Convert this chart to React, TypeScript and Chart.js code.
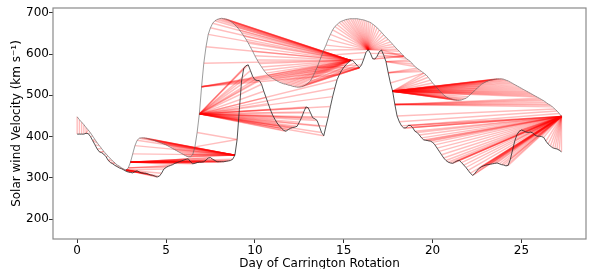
import React, { useEffect, useRef } from "react";
import { Chart, registerables } from "chart.js";
Chart.register(...registerables);

// sampling step of both series (days)
const STEP_DAYS = 0.125;

// observed solar wind speed (km/s), every 0.125 day from day 0 (one row per day)
const OBSERVED = [
  406, 406, 406, 406, 408, 407, 400, 390,
  380, 370, 363, 361, 357, 351, 342, 337,
  334, 330, 327, 324, 322, 319, 316, 314,
  313, 312, 315, 317, 314, 312, 311, 311,
  309, 307, 306, 304, 302, 304, 311, 321,
  325, 328, 330, 332, 335, 337, 339, 341,
  343, 345, 346, 339, 334, 335, 337, 338,
  338, 339, 343, 348, 349, 345, 342, 339,
  339, 339, 339, 340, 341, 342, 345, 355,
  393, 465, 535, 566, 572, 574, 560, 546,
  538, 536, 536, 527, 510, 495, 480, 465,
  452, 442, 433, 426, 420, 415, 413, 417,
  420, 422, 423, 425, 435, 446, 460, 472,
  470, 458, 446, 443, 439, 425, 410, 402,
  425, 447, 473, 497, 518, 538, 550, 560,
  568, 574, 580, 585, 585, 579, 573, 567,
  574, 588, 604, 611, 602, 589, 588, 595,
  606, 610, 597, 582, 555, 530, 510, 478,
  450, 436, 426, 421, 421, 427, 427, 422,
  413, 410, 404, 397, 392, 391, 390, 389,
  386, 380, 372, 364, 356, 348, 342, 338,
  336, 335, 338, 341, 342, 337, 331, 325,
  318, 311, 306, 310, 318, 323, 327, 329,
  331, 332, 333, 334, 335, 336, 334, 332,
  331, 329, 330, 345, 368, 390, 405, 413,
  416, 414, 411, 410, 411, 409, 404, 401,
  401, 400, 398, 389, 382, 377, 373, 371,
  370, 367, 363,
];

// modelled solar wind speed (km/s), same sampling
const MODEL = [
  448, 441, 435, 429, 422, 416, 409, 401,
  393, 385, 378, 371, 364, 358, 352, 346,
  341, 336, 331, 328, 324, 321, 319, 324,
  338, 358, 378, 391, 396, 397, 397, 396,
  395, 393, 392, 390, 388, 386, 384, 382,
  380, 377, 374, 371, 368, 365, 362, 359,
  356, 353, 351, 351, 356, 375, 410, 455,
  521, 578, 618, 648, 664, 675, 681, 684,
  686, 687, 686, 685, 683, 680, 676, 671,
  666, 659, 652, 644, 636, 627, 617, 607,
  596, 586, 577, 569, 561, 554, 549, 545,
  541, 538, 535, 532, 530, 528, 527, 525,
  524, 522, 521, 520, 520, 521, 523, 526,
  530, 535, 545, 556, 568, 582, 596, 610,
  622, 636, 648, 659, 667, 672, 677, 680,
  682, 684, 685, 686, 686, 686, 686, 685,
  684, 683, 681, 679, 677, 673, 669, 664,
  659, 653, 647, 641, 636, 630, 624, 618,
  612, 607, 601, 595, 590, 586, 582, 576,
  570, 566, 562, 558, 554, 550, 544, 537,
  530, 524, 518, 512, 506, 501, 497, 494,
  492, 490, 489, 488, 488, 489, 491, 493,
  497, 502, 507, 512, 517, 522, 527, 530,
  533, 535, 537, 538, 539, 540, 540, 540,
  539, 537, 535, 532, 529, 526, 523, 520,
  517, 514, 511, 508, 505, 502, 499, 496,
  493, 490, 487, 483, 479, 476, 472, 467,
  462, 456, 449,
];

const MODEL_ANCHORS = [0, 22, 52, 55, 55, 56, 98, 108, 120, 138, 156, 196, 217, 218, 218];
const OBS_ANCHORS = [0, 36, 71, 73, 117, 123, 124, 127, 131, 131, 142, 142, 146, 147, 218];

const X_TICKS = [0, 5, 10, 15, 20, 25];
const Y_TICKS = [200, 300, 400, 500, 600, 700];
const X_LABEL = "Day of Carrington Rotation";
const Y_LABEL = "Solar wind Velocity (km s\u207B\u00B9)";

// dynamic time warping between two anchor points (inclusive)
function dtwBlock(a: number[], b: number[], g0: number, g1: number, h0: number, h1: number): [number, number][] {
  const n = g1 - g0 + 1, m = h1 - h0 + 1;
  const D: number[][] = [];
  for (let i = 0; i < n; i++) D.push(new Array(m).fill(Infinity));
  for (let i = 0; i < n; i++) {
    for (let j = 0; j < m; j++) {
      const c = Math.abs(a[g0 + i] - b[h0 + j]);
      if (i === 0 && j === 0) { D[i][j] = c; continue; }
      const prev = Math.min(
        i > 0 ? D[i - 1][j] : Infinity,
        j > 0 ? D[i][j - 1] : Infinity,
        i > 0 && j > 0 ? D[i - 1][j - 1] : Infinity
      );
      D[i][j] = c + prev;
    }
  }
  const path: [number, number][] = [];
  let i = n - 1, j = m - 1;
  path.push([g0 + i, h0 + j]);
  while (i > 0 || j > 0) {
    if (i === 0) j--;
    else if (j === 0) i--;
    else {
      const diag = D[i - 1][j - 1], up = D[i - 1][j], left = D[i][j - 1];
      if (diag <= up && diag <= left) { i--; j--; }
      else if (up <= left) i--;
      else j--;
    }
    path.push([g0 + i, h0 + j]);
  }
  return path.reverse();
}

function alignment(): [number, number][] {
  const out: [number, number][] = [];
  for (let k = 0; k < MODEL_ANCHORS.length - 1; k++) {
    const seg = dtwBlock(MODEL, OBSERVED, MODEL_ANCHORS[k], MODEL_ANCHORS[k + 1], OBS_ANCHORS[k], OBS_ANCHORS[k + 1]);
    out.push(...(k === 0 ? seg : seg.slice(1)));
  }
  return out;
}

const framePlugin = {
  id: "frame",
  afterDatasetsDraw(chart: any) {
    const { ctx, chartArea } = chart;
    ctx.save();
    ctx.strokeStyle = "#8a8a8a";
    ctx.lineWidth = 1.2;
    ctx.strokeRect(chartArea.left, chartArea.top, chartArea.right - chartArea.left, chartArea.bottom - chartArea.top);
    ctx.restore();
  },
};

export default function App() {
  const ref = useRef<HTMLCanvasElement>(null);
  useEffect(() => {
    const canvas = ref.current;
    if (!canvas) return;
    const days = OBSERVED.map((_, i) => i * STEP_DAYS);
    const path = alignment();
    const links = path.map(([i, j]) => ({
      data: [
        { x: days[i], y: MODEL[i] },
        { x: days[j], y: OBSERVED[j] },
      ],
      showLine: true,
      borderColor: "rgba(255,0,0,0.26)",
      borderWidth: 1.4,
      pointRadius: 0,
      order: 2,
    }));
    const chart = new Chart(canvas, {
      type: "scatter",
      data: {
        datasets: [
          {
            data: days.map((d, i) => ({ x: d, y: OBSERVED[i] })),
            showLine: true,
            borderColor: "rgba(40,40,40,0.8)",
            borderWidth: 1,
            pointRadius: 0,
            order: 0,
          },
          {
            data: days.map((d, i) => ({ x: d, y: MODEL[i] })),
            showLine: true,
            borderColor: "rgba(90,90,90,0.6)",
            borderWidth: 1,
            pointRadius: 0,
            order: 1,
          },
          ...links,
        ] as any,
      },
      options: {
        responsive: false,
        animation: false,
        layout: { padding: { left: 0, right: 6, top: 8, bottom: 0 } },
        plugins: { legend: { display: false }, tooltip: { enabled: false } },
        scales: {
          x: {
            type: "linear",
            min: -1.36,
            max: 28.63,
            afterBuildTicks: (s: any) => { s.ticks = X_TICKS.map((v) => ({ value: v })); },
            afterFit: (s: any) => { s.height = 30; },
            grid: { display: true, drawOnChartArea: false, drawTicks: true, tickLength: 4, color: "#333" },
            border: { display: false },
            ticks: { padding: 1, color: "#000", font: { size: 12, family: "DejaVu Sans" }, maxRotation: 0, autoSkip: false },
            title: { display: true, text: X_LABEL, color: "#000", font: { size: 12, family: "DejaVu Sans" }, padding: { top: 0, bottom: -2 } },
          },
          y: {
            type: "linear",
            min: 151.5,
            max: 712,
            afterBuildTicks: (s: any) => { s.ticks = Y_TICKS.map((v) => ({ value: v })); },
            afterFit: (s: any) => { s.width = 53; },
            grid: { display: true, drawOnChartArea: false, drawTicks: true, tickLength: 4, color: "#333" },
            border: { display: false },
            ticks: { padding: 0, color: "#000", font: { size: 12, family: "DejaVu Sans" }, autoSkip: false },
            title: { display: true, text: Y_LABEL, color: "#000", font: { size: 12, family: "DejaVu Sans" }, padding: { top: 10, bottom: 0 } },
          },
        },
      },
      plugins: [framePlugin],
    });
    return () => chart.destroy();
  }, []);
  return (
    <div style={{ position: "fixed", left: 0, top: 0, width: 592, height: 269, background: "#fff" }}>
      <canvas ref={ref} width={592} height={269} style={{ display: "block" }} />
    </div>
  );
}
